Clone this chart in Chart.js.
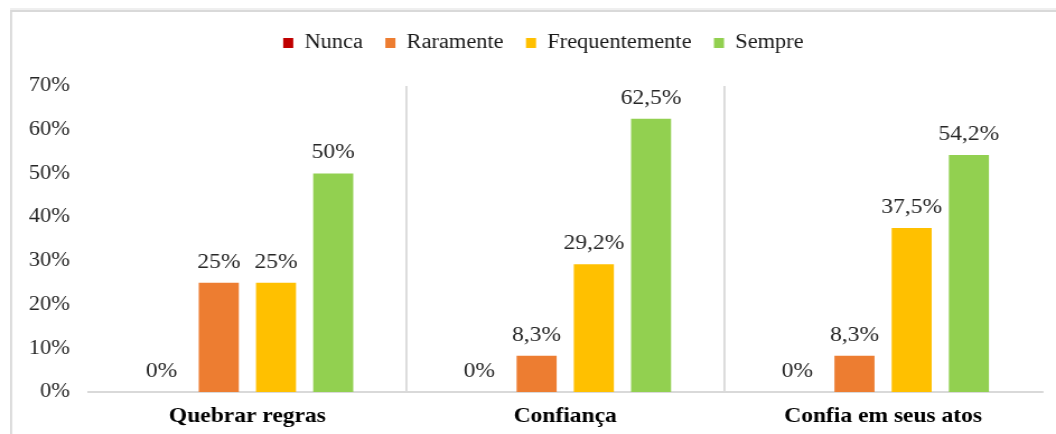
<!DOCTYPE html>
<html><head><meta charset="utf-8">
<script src="https://cdn.jsdelivr.net/npm/chart.js@4/dist/chart.umd.min.js"></script>
<style>html,body{margin:0;padding:0;background:#fff;overflow:hidden}#wrap{width:1056px;height:434px;position:relative}canvas{display:block}</style>
</head><body><div id="wrap"><canvas id="c" width="943" height="434" style="width:1056px;height:434px"></canvas></div>
<script>
const categories = ['Quebrar regras', 'Confiança', 'Confia em seus atos'];
const seriesNames = ['Nunca', 'Raramente', 'Frequentemente', 'Sempre'];
const nunca = [0, 0, 0];
const raramente = [25, 8.3, 8.3];
const frequentemente = [25, 29.2, 37.5];
const sempre = [50, 62.5, 54.2];
const yTickValues = [0, 10, 20, 30, 40, 50, 60, 70];
const seriesColors = ['#C00000', '#ED7D31', '#FFC000', '#92D050'];

const SERIF = '"Liberation Serif", "Times New Roman", serif';

const frame = {
  id: 'frame',
  beforeDraw(chart) {
    const ctx = chart.ctx;
    ctx.save();
    ctx.fillStyle = '#ffffff';
    ctx.fillRect(0, 0, chart.width, chart.height);
    ctx.fillStyle = '#efefef';
    ctx.fillRect(9, 8, chart.width - 9, 3);
    ctx.fillStyle = '#d9d9d9';
    ctx.fillRect(9, 10, chart.width - 9, 2);
    ctx.fillRect(9, 10, 1.8, chart.height - 10);
    ctx.restore();
  }
};

const legendSpacer = {
  id: 'legendSpacer',
  beforeLayout(chart) {
    const lg = chart.legend;
    if (lg && !lg._spacerPatched) {
      const origFit = lg.fit.bind(lg);
      lg.fit = function () { origFit(); this.height += 23; };
      lg._spacerPatched = true;
    }
  },
  afterLayout(chart) {
    const lg = chart.legend;
    if (lg) { lg.left += 20; lg.right += 20; }
  }
};

const valueLabels = {
  id: 'valueLabels',
  afterDatasetsDraw(chart) {
    const ctx = chart.ctx;
    ctx.save();
    ctx.font = '21px ' + SERIF;
    ctx.fillStyle = '#262626';
    ctx.textAlign = 'center';
    ctx.textBaseline = 'alphabetic';
    chart.data.datasets.forEach((ds, i) => {
      const meta = chart.getDatasetMeta(i);
      meta.data.forEach((el, j) => {
        const v = ds.data[j];
        ctx.fillText(String(v).replace('.', ',') + '%', el.x, el.y - 15);
      });
    });
    ctx.restore();
  }
};

const seriesData = [nunca, raramente, frequentemente, sempre];

new Chart(document.getElementById('c'), {
  type: 'bar',
  data: {
    labels: categories,
    datasets: seriesNames.map((name, i) => ({
      label: name,
      data: seriesData[i],
      backgroundColor: seriesColors[i],
      borderWidth: 0,
      categoryPercentage: 0.72,
      barPercentage: 0.7
    }))
  },
  options: {
    responsive: false,
    devicePixelRatio: 1,
    animation: false,
    layout: { padding: { top: 13, right: 12.5, bottom: 0, left: 0 } },
    plugins: {
      legend: {
        display: true,
        position: 'top',
        labels: {
          boxWidth: 9,
          boxHeight: 10,
          padding: 20,
          color: '#1a1a1a',
          font: { family: SERIF, size: 20 }
        }
      },
      tooltip: { enabled: false },
      title: { display: false }
    },
    scales: {
      x: {
        grid: {
          display: true,
          offset: true,
          drawTicks: false,
          lineWidth: 1.8,
          color: (c) => (c.index === 1 || c.index === 2) ? '#d9d9d9' : 'rgba(0,0,0,0)'
        },
        border: { display: true, color: '#d9d9d9', width: 2 },
        ticks: {
          padding: 12,
          color: '#000000',
          font: { family: SERIF, size: 21, weight: 'bold' }
        },
        afterFit(scale) { scale.height = 42; }
      },
      y: {
        min: 0,
        max: 70,
        grid: { display: false, drawTicks: false },
        border: { display: false },
        afterBuildTicks(scale) { scale.ticks = yTickValues.map(v => ({ value: v })); },
        ticks: {
          padding: 16.5,
          color: '#262626',
          font: { family: SERIF, size: 20 },
          callback: (v) => v + '%'
        },
        afterFit(scale) { scale.width = 79; }
      }
    }
  },
  plugins: [frame, legendSpacer, valueLabels]
});
</script>
</body></html>
